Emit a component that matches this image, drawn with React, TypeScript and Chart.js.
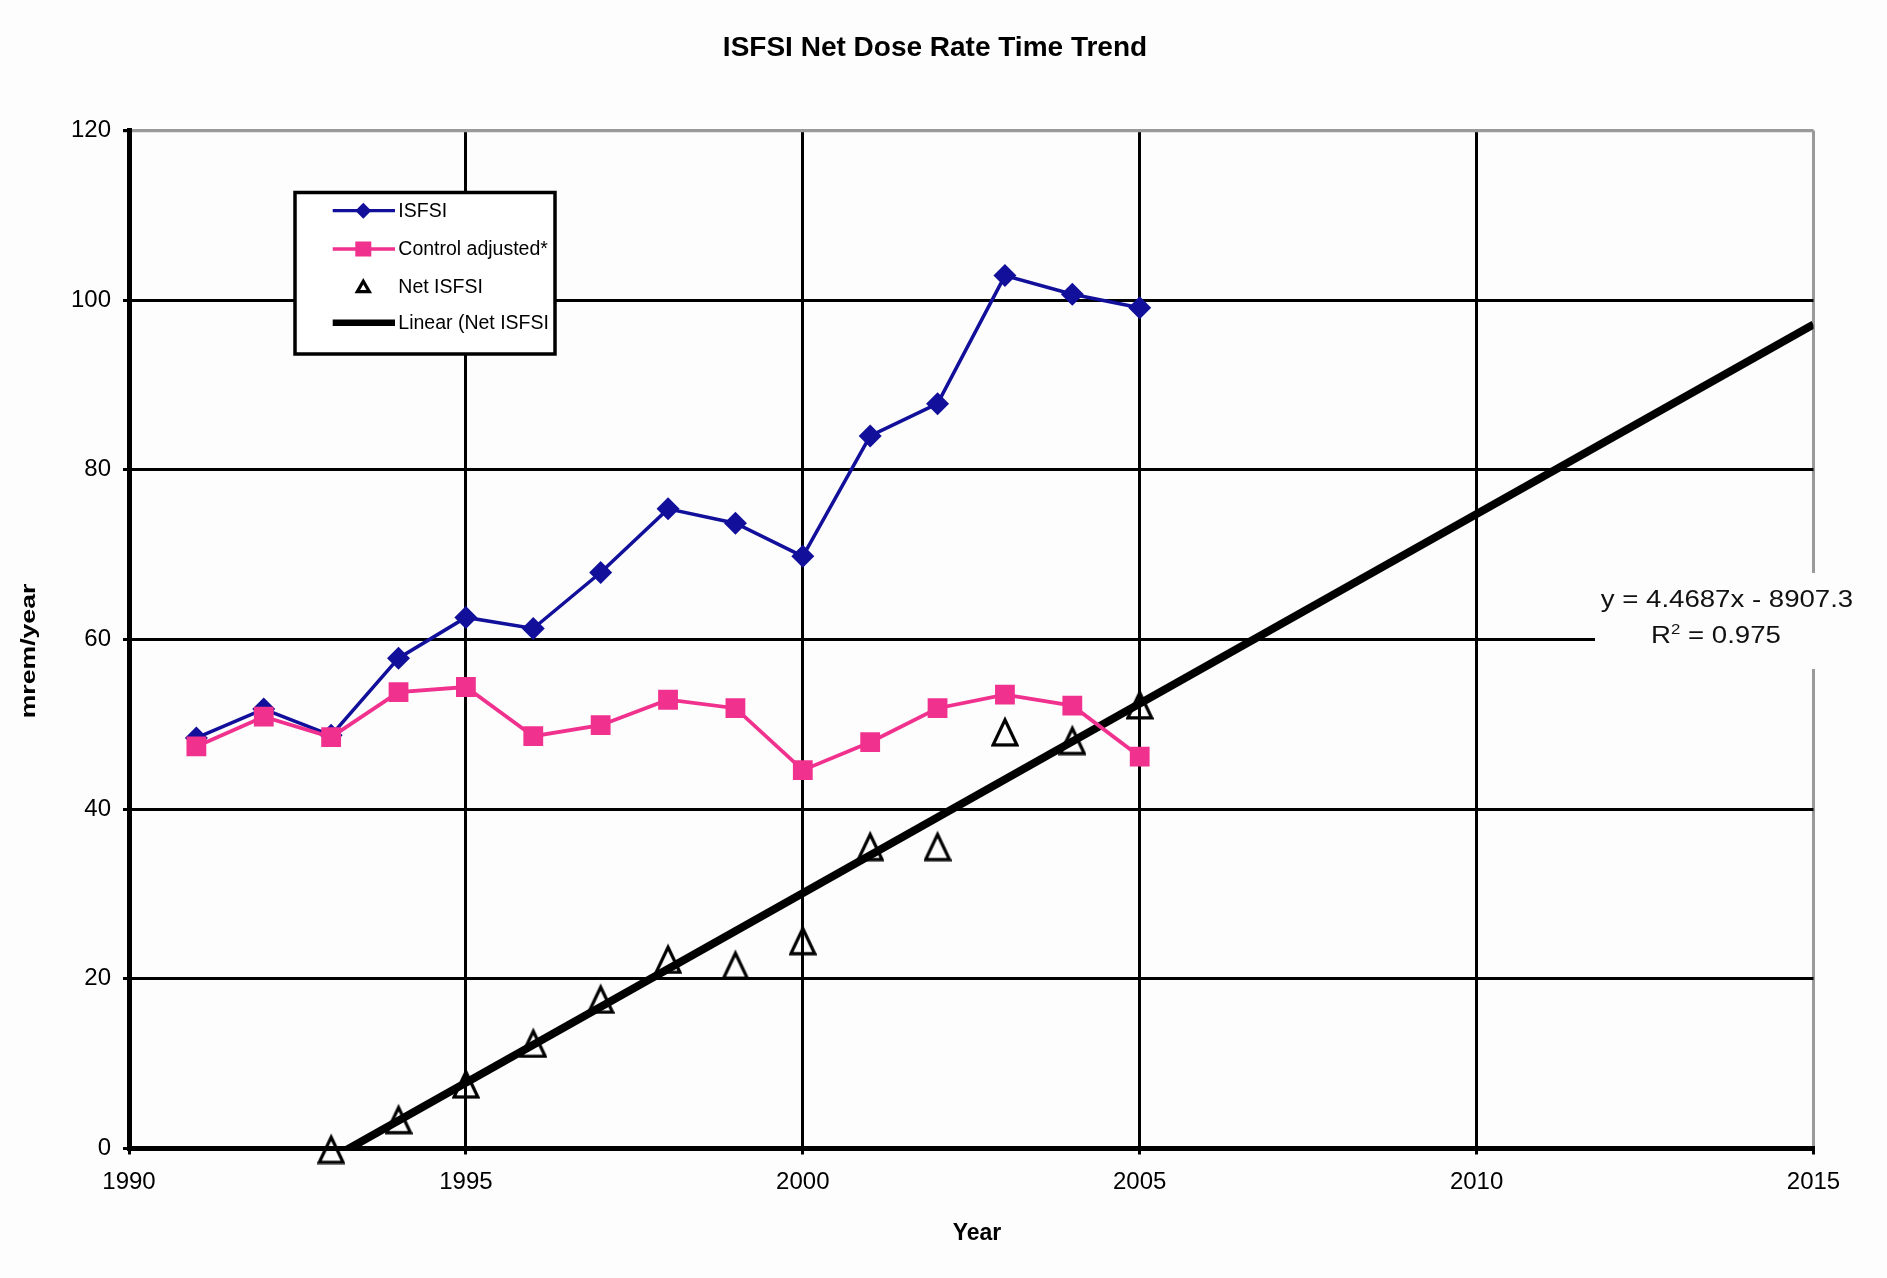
import React, { useEffect, useRef } from "react";
import { Chart, registerables } from "chart.js";

Chart.register(...registerables);

// ---------- data ----------
const years = [1991, 1992, 1993, 1994, 1995, 1996, 1997, 1998, 1999, 2000, 2001, 2002, 2003, 2004, 2005];
const isfsi = [48.4, 51.8, 48.7, 57.8, 62.6, 61.3, 67.9, 75.4, 73.7, 69.8, 84.0, 87.8, 102.9, 100.7, 99.1];
const controlAdjusted = [47.4, 50.9, 48.5, 53.8, 54.4, 48.6, 49.9, 52.9, 51.9, 44.6, 47.9, 51.9, 53.5, 52.2, 46.2];
const netYears = [1993, 1994, 1995, 1996, 1997, 1998, 1999, 2000, 2001, 2002, 2003, 2004, 2005];
const netIsfsi = [0.0, 3.5, 7.7, 12.5, 17.7, 22.4, 21.7, 24.6, 35.7, 35.7, 49.2, 48.2, 52.4];

const trendSlope = 4.4687;
const trendIntercept = -8907.3;
const trendR2 = 0.975;
const trendYears = [1993, 2015];

const xMin = 1990;
const xMax = 2015;
const xStep = 5;
const yMin = 0;
const yMax = 120;
const yStep = 20;

const chartTitle = "ISFSI Net Dose Rate Time Trend";
const xAxisTitle = "Year";
const yAxisTitle = "mrem/year";
const legendLabels = ["ISFSI", "Control adjusted*", "Net ISFSI", "Linear (Net ISFSI"];

// ---------- styles ----------
const FONT = '"Liberation Sans", Arial, Helvetica, sans-serif';
const BLUE = "#12109a";
const PINK = "#f0318e";
const GRAY = "#9a9a9a";
const BG = "#fdfdfd";

function makeTriangle(w: number, h: number, lw: number): HTMLCanvasElement {
  const c = document.createElement("canvas");
  c.width = w;
  c.height = h;
  const g = c.getContext("2d")!;
  g.strokeStyle = "#000";
  g.lineWidth = lw;
  g.lineJoin = "miter";
  g.miterLimit = 4;
  g.beginPath();
  g.moveTo(w / 2, lw + 1.5);
  g.lineTo(w - lw / 2 - 0.5, h - lw / 2 - 0.5);
  g.lineTo(lw / 2 + 0.5, h - lw / 2 - 0.5);
  g.closePath();
  g.stroke();
  return c;
}

const overlayPlugin = {
  id: "overlay",
  afterDraw(chart: any) {
    const ctx: CanvasRenderingContext2D = chart.ctx;
    ctx.save();

    // Title
    ctx.fillStyle = "#000";
    ctx.font = `bold 28px ${FONT}`;
    ctx.textAlign = "center";
    ctx.textBaseline = "alphabetic";
    ctx.fillText(chartTitle, 935, 56);

    // X axis title
    ctx.font = `bold 23px ${FONT}`;
    ctx.fillText(xAxisTitle, 977, 1240);

    // Y axis title
    ctx.save();
    ctx.translate(35, 651);
    ctx.rotate(-Math.PI / 2);
    ctx.scale(1.33, 1);
    ctx.font = `bold 20px ${FONT}`;
    ctx.textAlign = "center";
    ctx.fillText(yAxisTitle, 0, 0);
    ctx.restore();

    // Equation box
    ctx.fillStyle = BG;
    ctx.fillRect(1595, 573, 285, 96);
    ctx.fillStyle = "#111";
    const eq = `y = ${trendSlope}x - ${Math.abs(trendIntercept)}`;
    ctx.save();
    ctx.translate(1727, 606.5);
    ctx.scale(1.2, 1);
    ctx.font = `23px ${FONT}`;
    ctx.textAlign = "center";
    ctx.fillText(eq, 0, 0);
    ctx.restore();
    // R^2 line
    ctx.save();
    ctx.font = `23px ${FONT}`;
    const wR = ctx.measureText("R").width;
    const rest = ` = ${trendR2}`;
    const wRest = ctx.measureText(rest).width;
    ctx.font = `14px ${FONT}`;
    const w2 = ctx.measureText("2").width;
    const total = wR + w2 + wRest;
    ctx.translate(1716, 643.3);
    ctx.scale(1.2, 1);
    ctx.textAlign = "left";
    const x0 = -total / 2;
    ctx.font = `23px ${FONT}`;
    ctx.fillText("R", x0, 0);
    ctx.font = `14px ${FONT}`;
    ctx.fillText("2", x0 + wR, -9);
    ctx.font = `23px ${FONT}`;
    ctx.fillText(rest, x0 + wR + w2, 0);
    ctx.restore();

    // Legend box
    const bx = 295, by = 192.5, bw = 260, bh = 161.5;
    ctx.fillStyle = "#ffffff";
    ctx.fillRect(bx, by, bw, bh);
    ctx.strokeStyle = "#000";
    ctx.lineWidth = 3.5;
    ctx.strokeRect(bx, by, bw, bh);

    const rowsY = [210.7, 249, 286.7, 322.7];
    const lx0 = 332.7, lx1 = 395, mx = 363.3, tx = 398.3;

    // ISFSI
    ctx.strokeStyle = BLUE;
    ctx.lineWidth = 3.2;
    ctx.beginPath();
    ctx.moveTo(lx0, rowsY[0]);
    ctx.lineTo(lx1, rowsY[0]);
    ctx.stroke();
    ctx.fillStyle = BLUE;
    ctx.beginPath();
    ctx.moveTo(mx - 8, rowsY[0]);
    ctx.lineTo(mx, rowsY[0] - 8);
    ctx.lineTo(mx + 8, rowsY[0]);
    ctx.lineTo(mx, rowsY[0] + 8);
    ctx.closePath();
    ctx.fill();

    // Control adjusted
    ctx.strokeStyle = PINK;
    ctx.lineWidth = 3.6;
    ctx.beginPath();
    ctx.moveTo(lx0, rowsY[1]);
    ctx.lineTo(lx1, rowsY[1]);
    ctx.stroke();
    ctx.fillStyle = PINK;
    ctx.fillRect(mx - 8, rowsY[1] - 7.5, 16, 15);

    // Net ISFSI (small hollow triangle)
    ctx.strokeStyle = "#000";
    ctx.lineWidth = 3.2;
    ctx.beginPath();
    ctx.moveTo(mx, rowsY[2] - 5.5);
    ctx.lineTo(mx + 6, rowsY[2] + 5);
    ctx.lineTo(mx - 6, rowsY[2] + 5);
    ctx.closePath();
    ctx.stroke();

    // Linear
    ctx.strokeStyle = "#000";
    ctx.lineWidth = 6.5;
    ctx.beginPath();
    ctx.moveTo(lx0, rowsY[3]);
    ctx.lineTo(lx1, rowsY[3]);
    ctx.stroke();

    ctx.fillStyle = "#000";
    ctx.font = `19.5px ${FONT}`;
    ctx.textAlign = "left";
    ctx.textBaseline = "middle";
    legendLabels.forEach((t, i) => ctx.fillText(t, tx, rowsY[i] + 1));

    ctx.restore();
  },
};

export default function App() {
  const canvasRef = useRef<HTMLCanvasElement>(null);

  useEffect(() => {
    const canvas = canvasRef.current;
    if (!canvas) return;
    const tri = makeTriangle(28, 32, 3.2);

    const chart = new Chart(canvas, {
      type: "line",
      data: {
        datasets: [
          {
            label: legendLabels[1],
            data: years.map((x, i) => ({ x, y: controlAdjusted[i] })),
            borderColor: PINK,
            backgroundColor: PINK,
            borderWidth: 3.8,
            pointStyle: "rect",
            pointRadius: 14,
            pointBorderWidth: 0,
            tension: 0,
            order: 1,
          },
          {
            label: legendLabels[0],
            data: years.map((x, i) => ({ x, y: isfsi[i] })),
            borderColor: BLUE,
            backgroundColor: BLUE,
            borderWidth: 3.5,
            pointStyle: "rectRot",
            pointRadius: 11.5,
            pointBorderWidth: 0,
            tension: 0,
            order: 2,
          },
          {
            label: legendLabels[2],
            data: netYears.map((x, i) => ({ x, y: netIsfsi[i] })),
            showLine: false,
            pointStyle: tri as any,
            pointRadius: 16,
            borderColor: "#000",
            backgroundColor: "transparent",
            clip: false,
            order: 3,
          },
          {
            label: legendLabels[3],
            data: trendYears.map((x) => ({ x, y: trendSlope * x + trendIntercept })),
            borderColor: "#000",
            borderWidth: 8,
            borderCapStyle: "butt",
            pointRadius: 0,
            tension: 0,
            order: 4,
          },
        ] as any,
      },
      options: {
        responsive: false,
        animation: false,
        events: [],
        layout: { padding: { top: 130.5, right: 73.5, left: 0, bottom: 0 } },
        plugins: {
          legend: { display: false },
          title: { display: false },
          tooltip: { enabled: false },
        },
        scales: {
          x: {
            type: "linear",
            min: xMin,
            max: xMax,
            ticks: {
              stepSize: xStep,
              autoSkip: false,
              maxRotation: 0,
              padding: 13,
              color: "#000",
              font: { family: FONT, size: 24 },
              callback: (v: any) => String(v),
            },
            grid: {
              color: (c: any) => (c.tick && c.tick.value === xMax ? GRAY : "#000"),
              lineWidth: 3,
              tickLength: 6,
              tickColor: "#000",
            },
            border: { color: "#000", width: 5 },
            afterFit: (s: any) => {
              s.height = 129.5;
            },
          },
          y: {
            type: "linear",
            min: yMin,
            max: yMax,
            ticks: {
              stepSize: yStep,
              padding: 12,
              color: "#000",
              font: { family: FONT, size: 24 },
            },
            grid: {
              color: (c: any) => (c.tick && c.tick.value === yMax ? GRAY : "#000"),
              lineWidth: (c: any) => (c.tick && c.tick.value === yMax ? 3.2 : 3),
              tickLength: 6,
              tickColor: "#000",
            },
            border: { color: "#000", width: 5 },
            afterFit: (s: any) => {
              s.width = 129;
            },
          },
        },
      } as any,
      plugins: [overlayPlugin],
    });

    return () => chart.destroy();
  }, []);

  return (
    <div
      style={{
        position: "fixed",
        left: 0,
        top: 0,
        width: 1887,
        height: 1278,
        background: BG,
      }}
    >
      <canvas ref={canvasRef} width={1887} height={1278} style={{ display: "block" }} />
    </div>
  );
}
